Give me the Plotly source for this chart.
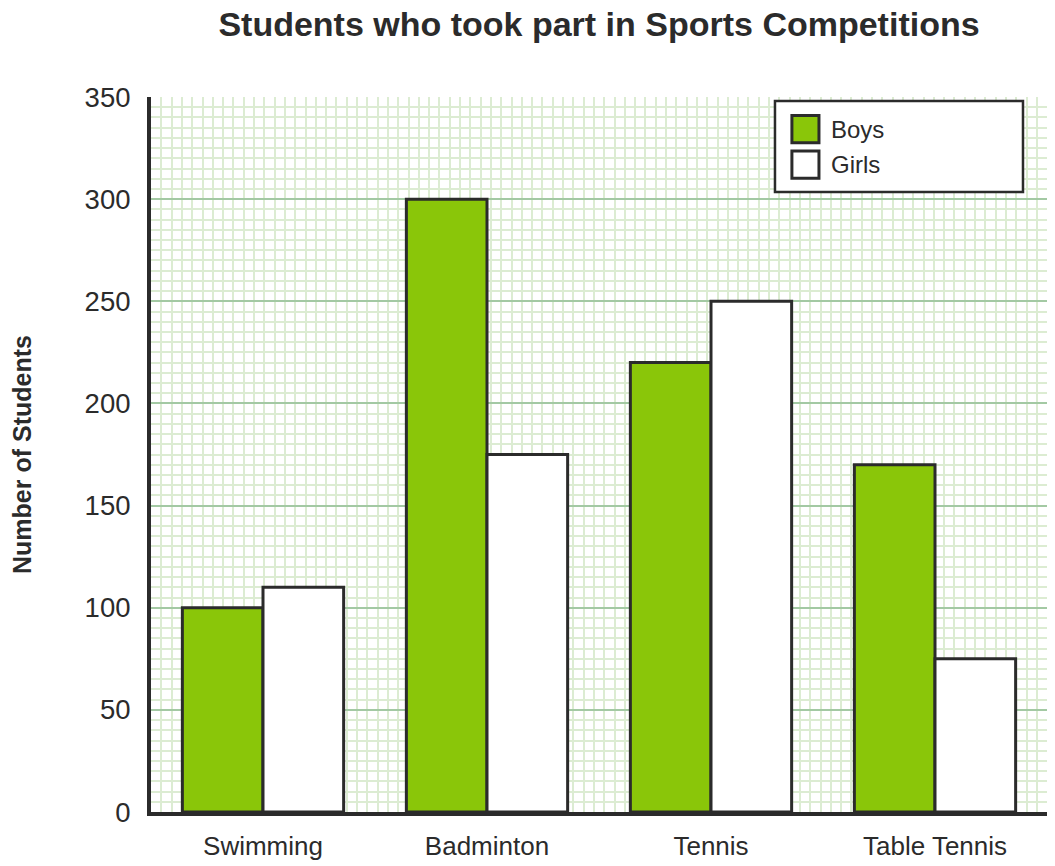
import plotly.graph_objects as go

# data
sports = ["Swimming", "Badminton", "Tennis", "Table Tennis"]
boys = [100, 300, 220, 170]
girls = [110, 175, 250, 75]
y_ticks = [0, 50, 100, 150, 200, 250, 300, 350]

ink = "#2b2b2b"
boys_color = "#8ac609"
girls_color = "#ffffff"
font_family = "Liberation Sans, Arial, sans-serif"
positions = list(range(len(sports)))

fig = go.Figure()
fig.add_trace(go.Bar(
    x=positions, y=boys, name="Boys", showlegend=False,
    marker=dict(color=boys_color, line=dict(color=ink, width=3)),
))
fig.add_trace(go.Bar(
    x=positions, y=girls, name="Girls", showlegend=False,
    marker=dict(color=girls_color, line=dict(color=ink, width=3)),
))

# legend drawn by hand so the swatches can be as large as in the original
legend_box = dict(x0=0.6964, x1=0.9732, y0=0.8671, y1=0.9944)
fig.add_shape(type="rect", xref="paper", yref="paper", **legend_box,
              fillcolor="white", line=dict(color=ink, width=2.5))
for i, (label, color) in enumerate([("Boys", boys_color), ("Girls", girls_color)]):
    cy = 0.955 - i * 0.0495
    fig.add_shape(type="rect", xref="paper", yref="paper",
                  x0=0.7153, x1=0.7455, y0=cy - 0.0190, y1=cy + 0.0190,
                  fillcolor=color, line=dict(color=ink, width=3))
    fig.add_annotation(xref="paper", yref="paper", x=0.7567, y=cy,
                       xanchor="left", yanchor="middle", showarrow=False,
                       text=label, font=dict(size=24, color=ink))

fig.update_layout(
    width=1055, height=866,
    margin=dict(l=143, r=16, t=89, b=62),
    paper_bgcolor="white", plot_bgcolor="white",
    barmode="group", bargap=0.28, bargroupgap=0,
    font=dict(family=font_family, color=ink),
    title=dict(
        text="<b>Students who took part in Sports Competitions</b>",
        x=0.5, xref="paper", xanchor="center",
        y=0.981, yanchor="middle",
        font=dict(size=34, color=ink),
    ),
)

fig.update_xaxes(
    range=[-0.5, 3.5],
    tickvals=positions, ticktext=sports,
    tickfont=dict(size=26),
    showgrid=False, zeroline=False,
    showline=True, linecolor=ink, linewidth=4,
    ticks="", ticklabelstandoff=8,
    automargin=False,
    minor=dict(showgrid=True, gridcolor="#dcecd2", gridwidth=1.5,
               tick0=-0.5, dtick=10.3 / 224),
)
fig.update_yaxes(
    range=[0, 350],
    tickvals=y_ticks,
    tickfont=dict(size=27.5),
    showgrid=True, gridcolor="#a3c9a3", gridwidth=2,
    zeroline=False,
    showline=True, linecolor=ink, linewidth=4,
    ticks="", ticklabelstandoff=11,
    automargin=False,
    title=dict(text="<b>Number of Students</b>", font=dict(size=25, color=ink), standoff=60),
    minor=dict(showgrid=True, gridcolor="#dcecd2", gridwidth=1.5, dtick=5),
)

fig.write_html("out.html")
